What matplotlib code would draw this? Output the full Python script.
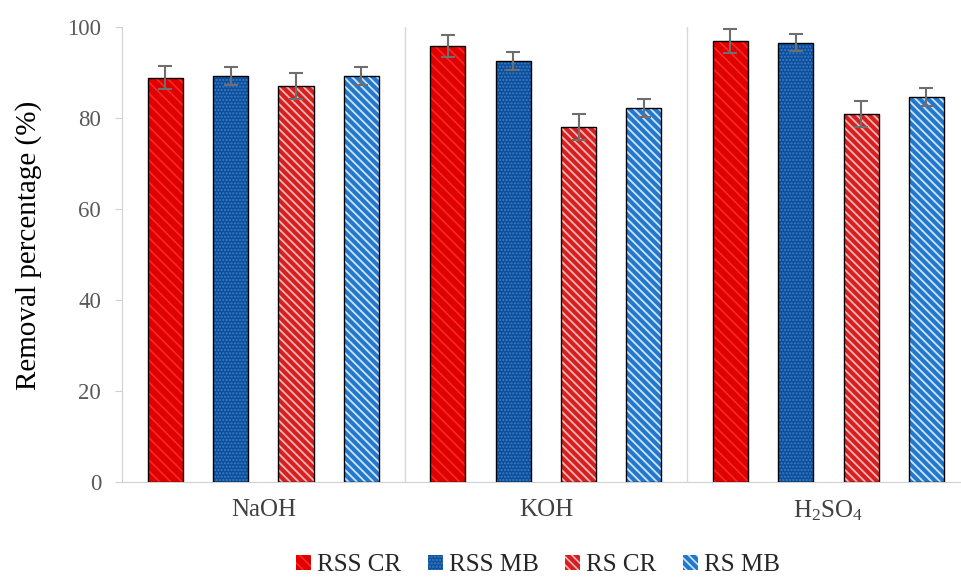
import matplotlib.pyplot as plt
import numpy as np
from matplotlib.patches import Patch

plt.rcParams['font.family'] = ['Liberation Serif', 'DejaVu Serif']
plt.rcParams['mathtext.fontset'] = 'custom'
plt.rcParams['mathtext.rm'] = 'Liberation Serif'
plt.rcParams['mathtext.it'] = 'Liberation Serif'

categories = ['NaOH', 'KOH', r'H$_2$SO$_4$']
series = ['RSS CR', 'RSS MB', 'RS CR', 'RS MB']

rss_cr = [88.9, 95.8, 97.0]
rss_mb = [89.2, 92.5, 96.6]
rs_cr = [87.1, 78.1, 80.9]
rs_mb = [89.2, 82.2, 84.6]

rss_cr_err = [2.5, 2.4, 2.7]
rss_mb_err = [2.0, 2.0, 1.9]
rs_cr_err = [2.9, 2.8, 2.9]
rs_mb_err = [2.0, 2.0, 2.0]

values = [rss_cr, rss_mb, rs_cr, rs_mb]
errors = [rss_cr_err, rss_mb_err, rs_cr_err, rs_mb_err]

# face colour, hatch colour, hatch pattern, hatch width
styles = [
    ('#e00000', '#f52a2a', '\\\\\\', 1.2),
    ('#0b4f9c', '#3f7cc4', '.....', 1.0),
    ('#d42020', '#ffb4b4', '\\\\\\\\', 1.3),
    ('#2478cc', '#cfe4ff', '\\\\\\\\', 1.3),
]

fig = plt.figure(figsize=(9.61, 5.78), dpi=100)
ax = fig.add_axes([0.127, 0.166, 0.882, 0.787])

x = np.arange(len(categories))
pitch = 0.2314
width = 0.124

for i, (vals, errs, (fc, hc, hatch, hw)) in enumerate(zip(values, errors, styles)):
    pos = x + (i - 1.5) * pitch
    plt.rcParams['hatch.linewidth'] = hw
    ax.bar(pos, vals, width, color=fc, edgecolor=hc, hatch=hatch, linewidth=0, zorder=2)
    ax.bar(pos, vals, width, facecolor='none', edgecolor='black', linewidth=1.0, zorder=3)
    ax.errorbar(pos, vals, yerr=errs, fmt='none', ecolor='#6e6e6e', elinewidth=1.5,
                capsize=5, capthick=1.5, zorder=4)

for sep in [0.5, 1.5]:
    ax.axvline(sep, color='#d9d9d9', linewidth=1.0, zorder=1)

ax.set_xlim(-0.5, 2.5)
ax.set_ylim(0, 100)
ax.set_yticks(range(0, 101, 20))
ax.set_xticks(x)
ax.set_xticklabels(categories)
ax.set_ylabel('Removal percentage (%)', fontsize=21, color='#000000')
ax.yaxis.set_label_coords(-0.094, 0.52)

for side in ['top', 'right']:
    ax.spines[side].set_visible(False)
for side in ['left', 'bottom']:
    ax.spines[side].set_color('#d0d0d0')
ax.tick_params(axis='y', length=5, color='#d0d0d0', labelsize=16.5, labelcolor='#595959', pad=10)
ax.tick_params(axis='x', length=0, labelsize=18, labelcolor='#404040', pad=12)

plt.rcParams['hatch.linewidth'] = 1.2
handles = [Patch(facecolor=fc, edgecolor=hc, hatch=hatch, linewidth=0) for fc, hc, hatch, hw in styles]
fig.legend(handles, series, loc='center', bbox_to_anchor=(0.560, 0.022), ncol=4,
           frameon=False, fontsize=18, handlelength=0.6, handleheight=0.6,
           handletextpad=0.25, columnspacing=1.05, labelcolor='#262626')

fig.savefig('out.png', dpi=100)
